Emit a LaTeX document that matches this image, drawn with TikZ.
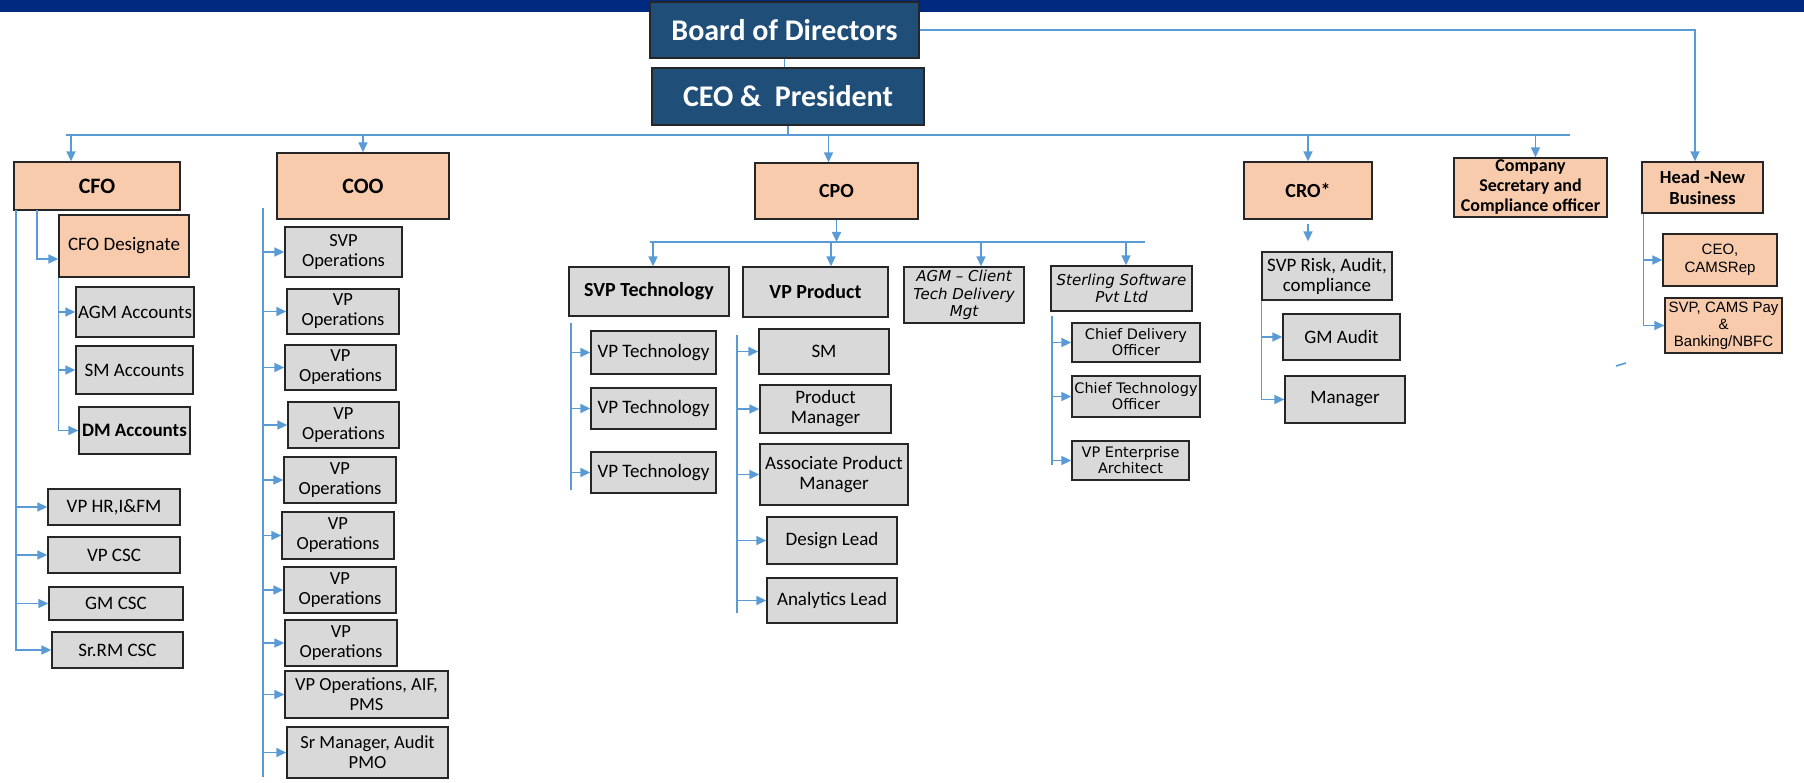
\documentclass[tikz,border=0pt]{standalone}
\usepackage{fontspec}
\setmainfont{Carlito}
\newfontfamily\verdanafont{DejaVu Sans}
\newfontfamily\arialfont{Liberation Sans}
\usepackage{xcolor}
\usepackage{tikz}
\usetikzlibrary{arrows.meta,positioning,calc}
\definecolor{topnavy}{RGB}{0,42,127}
\definecolor{boardblue}{RGB}{31,78,121}
\definecolor{peach}{RGB}{248,203,173}
\definecolor{boxgray}{RGB}{217,217,217}
\definecolor{linkblue}{RGB}{91,155,213}

\begin{document}
\begin{tikzpicture}[x=1pt,y=-1pt,
    sz/.style 2 args={minimum width=#1, minimum height=#2},
    navybox/.style={draw=black!85, line width=1.3pt, fill=boardblue, text=white, inner sep=0pt, align=center, font=\fontsize{30}{34}\selectfont\bfseries},
    peachbox/.style={draw=black!85, line width=1.3pt, fill=peach, inner sep=0pt, align=center},
    graybox/.style={draw=black!85, line width=1.3pt, fill=boxgray, inner sep=0pt, align=center, font=\fontsize{19}{20}\selectfont},
    opsbox/.style={graybox, font=\fontsize{18.5}{20}\selectfont},
    smallbox/.style={graybox, font=\fontsize{14.5}{16}\verdanafont},
    conn/.style={draw=linkblue, line width=1.6pt},
    connarr/.style={conn, -{Triangle[length=10pt,width=9pt]}}]
    \useasboundingbox (0,0) rectangle (1804,783);

    % Top banner
    \fill[topnavy] (0,0) rectangle (1804,12);

    % Board and CEO
    \node[navybox, sz={269}{56}] (board) at (784.5,30) {Board of Directors};
    \node[navybox, sz={272}{57}] (ceo) at (788,96.5) {CEO \&\ \ President};

    % Direct reports
    \node[peachbox, sz={166}{48}, font=\fontsize{22}{24}\selectfont\bfseries] (cfo) at (97,186) {CFO};
    \node[peachbox, sz={172}{66}, font=\fontsize{22}{24}\selectfont\bfseries] (coo) at (363,186) {COO};
    \node[peachbox, sz={163}{56}, font=\fontsize{20}{22}\selectfont\bfseries] (cpo) at (836.5,191) {CPO};
    \node[peachbox, sz={128}{57}, font=\fontsize{20}{22}\selectfont\bfseries] (cro) at (1308,190.5) {CRO*};
    \node[peachbox, sz={153}{59}, font=\fontsize{18}{20}\selectfont\bfseries] (cosec) at (1530.5,187.5) {Company\\Secretary and\\Compliance officer};
    \node[peachbox, sz={121}{51}, font=\fontsize{18.5}{21}\selectfont\bfseries] (head) at (1702.5,187.5) {Head -New\\Business};

    % Bus from CEO
    \coordinate (busL) at (66,135);
    \coordinate (busR) at (1570,135);
    \draw[conn] (board.south) -- (board.south |- ceo.north);
    \draw[conn] (ceo.south) -- (ceo.south |- busL);
    \draw[conn] (busL) -- (busR);
    \draw[connarr] (board.east) -| ([xshift=-7.5pt]head.north);
    \draw[connarr] ([xshift=-26pt]cfo.north |- busL) -- ([xshift=-26pt]cfo.north);
    \draw[connarr] (coo.north |- busL) -- (coo.north);
    \draw[connarr] ([xshift=-8pt]cpo.north |- busL) -- ([xshift=-8pt]cpo.north);
    \draw[connarr] (cro.north |- busL) -- (cro.north);
    \draw[connarr] ([xshift=5pt]cosec.north |- busL) -- ([xshift=5pt]cosec.north);

    % CFO branch
    \node[peachbox, sz={130}{62}, font=\fontsize{19}{20}\selectfont] (cfodes) at (124,246) {CFO Designate};
    \node[graybox, sz={118}{50}] (agmacc) at (135,312) {AGM Accounts};
    \node[graybox, sz={117}{48}] (smacc) at (134.5,370) {SM Accounts};
    \node[graybox, sz={111}{47}, font=\fontsize{19}{20}\selectfont\bfseries] (dmacc) at (134.5,430.5) {DM Accounts};
    \node[graybox, sz={132}{36}] (vphr) at (114,507) {VP HR,I\&FM};
    \node[graybox, sz={132}{36}] (vpcsc) at (114,555) {VP CSC};
    \node[graybox, sz={134}{33}] (gmcsc) at (116,603.5) {GM CSC};
    \node[graybox, sz={131}{36}] (srrm) at (117.5,650) {Sr.RM CSC};

    \coordinate (cfoA) at (16,210);
    \coordinate (cfoB) at (37,210);
    \draw[connarr] (cfoB) |- ([yshift=-13pt]cfodes.west);
    \draw[connarr] (cfodes.south west) |- (dmacc.west);
    \draw[connarr] (agmacc.west -| cfodes.south west) -- (agmacc.west);
    \draw[connarr] (smacc.west -| cfodes.south west) -- (smacc.west);
    \draw[connarr] (cfoA) |- (srrm.west);
    \draw[connarr] (vphr.west -| cfoA) -- (vphr.west);
    \draw[connarr] (vpcsc.west -| cfoA) -- (vpcsc.west);
    \draw[connarr] (gmcsc.west -| cfoA) -- (gmcsc.west);

    % COO branch
    \node[opsbox, sz={117}{50}] (svpops) at (343.5,252) {SVP\\Operations};
    \node[opsbox, sz={112}{45}] (vpopsA) at (343,311.5) {VP\\Operations};
    \node[opsbox, sz={111}{45}] (vpopsB) at (340.5,367.5) {VP\\Operations};
    \node[opsbox, sz={111}{46}] (vpopsC) at (343.5,425) {VP\\Operations};
    \node[opsbox, sz={112}{46}] (vpopsD) at (340,480) {VP\\Operations};
    \node[opsbox, sz={112}{47}] (vpopsE) at (338,535.5) {VP\\Operations};
    \node[opsbox, sz={112}{46}] (vpopsF) at (340,590) {VP\\Operations};
    \node[opsbox, sz={112}{46}] (vpopsG) at (341,643) {VP\\Operations};
    \node[opsbox, sz={163}{47}] (vpaif) at (366.5,694.5) {VP Operations, AIF,\\PMS};
    \node[opsbox, sz={161}{51}] (srmgr) at (367.5,752.5) {Sr Manager, Audit\\PMO};

    \coordinate (cooT) at (263,208);
    \coordinate (cooB) at (263,777);
    \draw[conn] (cooT) -- (cooB);
    \draw[connarr] (svpops.west -| cooT) -- (svpops.west);
    \draw[connarr] (vpopsA.west -| cooT) -- (vpopsA.west);
    \draw[connarr] (vpopsB.west -| cooT) -- (vpopsB.west);
    \draw[connarr] (vpopsC.west -| cooT) -- (vpopsC.west);
    \draw[connarr] (vpopsD.west -| cooT) -- (vpopsD.west);
    \draw[connarr] (vpopsE.west -| cooT) -- (vpopsE.west);
    \draw[connarr] (vpopsF.west -| cooT) -- (vpopsF.west);
    \draw[connarr] (vpopsG.west -| cooT) -- (vpopsG.west);
    \draw[connarr] (vpaif.west -| cooT) -- (vpaif.west);
    \draw[connarr] (srmgr.west -| cooT) -- (srmgr.west);

    % CPO branch
    \node[graybox, sz={160}{49}, font=\fontsize{20}{22}\selectfont\bfseries] (svptech) at (649,291.5) {SVP Technology};
    \node[graybox, sz={145}{50}, font=\fontsize{20}{22}\selectfont\bfseries] (vpprod) at (815.5,292) {VP Product};
    \node[graybox, sz={120}{56}, font=\fontsize{15}{17.5}\verdanafont\itshape] (agm) at (964,295) {AGM – Client\\Tech Delivery\\Mgt};
    \node[graybox, sz={141}{45}, font=\fontsize{15}{17}\verdanafont\itshape] (sterling) at (1121.5,288.5) {Sterling Software\\Pvt Ltd};

    \coordinate (cpoL) at (650,242);
    \coordinate (cpoR) at (1145,242);
    \draw[connarr] (cpo.south) -- (cpo.south |- cpoL);
    \draw[conn] (cpoL) -- (cpoR);
    \draw[connarr] ([xshift=4pt]svptech.north |- cpoL) -- ([xshift=4pt]svptech.north);
    \draw[connarr] ([xshift=15.5pt]vpprod.north |- cpoL) -- ([xshift=15.5pt]vpprod.north);
    \draw[connarr] ([xshift=17pt]agm.north |- cpoL) -- ([xshift=17pt]agm.north);
    \draw[connarr] ([xshift=4.5pt]sterling.north |- cpoL) -- ([xshift=4.5pt]sterling.north);

    % SVP Technology reports
    \node[graybox, sz={125}{43}] (vptA) at (653.5,352.5) {VP Technology};
    \node[graybox, sz={125}{41}] (vptB) at (653.5,408.5) {VP Technology};
    \node[graybox, sz={125}{41}] (vptC) at (653.5,472.5) {VP Technology};
    \coordinate (stT) at (571,323);
    \coordinate (stB) at (571,490);
    \draw[conn] (stT) -- (stB);
    \draw[connarr] (vptA.west -| stT) -- (vptA.west);
    \draw[connarr] (vptB.west -| stT) -- (vptB.west);
    \draw[connarr] (vptC.west -| stT) -- (vptC.west);

    % VP Product reports
    \node[graybox, sz={130}{45}] (sm) at (824,351.5) {SM};
    \node[graybox, sz={131}{48}] (pm) at (825.5,409) {Product\\Manager};
    \node[graybox, sz={148}{61}] (apm) at (834,474.5) {Associate Product\\Manager};
    \node[graybox, sz={130}{47}] (design) at (832,540.5) {Design Lead};
    \node[graybox, sz={130}{45}] (analytics) at (832,600.5) {Analytics Lead};
    \coordinate (vpT) at (737,335);
    \coordinate (vpB) at (737,613);
    \draw[conn] (vpT) -- (vpB);
    \draw[connarr] (sm.west -| vpT) -- (sm.west);
    \draw[connarr] (pm.west -| vpT) -- (pm.west);
    \draw[connarr] (apm.west -| vpT) -- (apm.west);
    \draw[connarr] (design.west -| vpT) -- (design.west);
    \draw[connarr] (analytics.west -| vpT) -- (analytics.west);

    % Sterling reports
    \node[smallbox, sz={128}{39}] (cdo) at (1136,342.5) {Chief Delivery\\Officer};
    \node[smallbox, sz={128}{41}] (cto) at (1136,396.5) {Chief Technology\\Officer};
    \node[smallbox, sz={117}{39}] (vpea) at (1130.5,460.5) {VP Enterprise\\Architect};
    \coordinate (ssT) at (1052,316);
    \coordinate (ssB) at (1052,465);
    \draw[conn] (ssT) -- (ssB);
    \draw[connarr] (cdo.west -| ssT) -- (cdo.west);
    \draw[connarr] (cto.west -| ssT) -- (cto.west);
    \draw[connarr] (vpea.west -| ssT) -- (vpea.west);

    % CRO branch
    \node[graybox, sz={130}{48}] (svprisk) at (1327,276) {SVP Risk, Audit,\\compliance};
    \node[graybox, sz={117}{46}] (gmaudit) at (1341.5,337) {GM Audit};
    \node[graybox, sz={120}{47}] (manager) at (1345,399.5) {Manager};
    \draw[connarr] ([yshift=-4pt]cro.south) -- ([yshift=10pt]cro.south |- svprisk.north);
    \draw[connarr] (svprisk.south west) |- (manager.west);
    \draw[connarr] (gmaudit.west -| svprisk.south west) -- (gmaudit.west);

    % Head - New Business branch
    \node[peachbox, sz={114}{52}, font=\fontsize{15}{17.5}\arialfont] (ceocams) at (1720,260) {CEO,\\CAMSRep};
    \node[peachbox, sz={117}{55}, font=\fontsize{15}{17}\arialfont] (svpcams) at (1723.5,325.5) {SVP, CAMS Pay\\\&\\Banking/NBFC};
    \coordinate (headL) at ([xshift=2pt]head.south west);
    \draw[connarr] (headL) |- (svpcams.west);
    \draw[connarr] (ceocams.west -| headL) -- (ceocams.west);

    % stray mark
    \draw[conn] (1616,366) -- (1626,363);
\end{tikzpicture}
\end{document}
